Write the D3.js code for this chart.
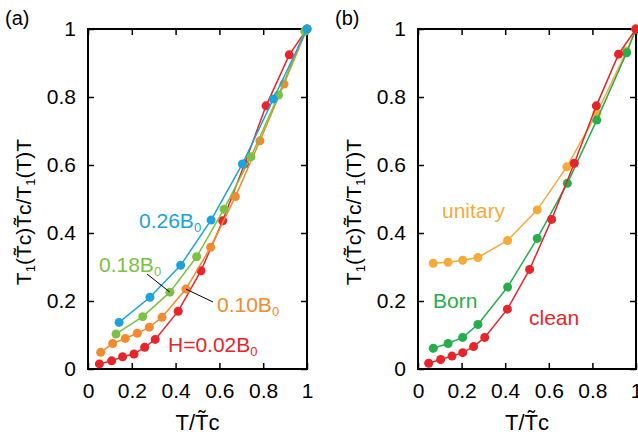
<!DOCTYPE html>
<html>
<head>
<meta charset="utf-8">
<title>T1 ratio</title>
<style>
  body { margin: 0; background: #fff; }
  text { font-family: "Liberation Sans", Arial, sans-serif; }
</style>
</head>
<body>
<script src="https://d3js.org/d3.v7.min.js"></script>
<script>
// panel (a): field dependence
var h002 = [[0.052,0.015],[0.108,0.024],[0.158,0.036],[0.21,0.044],[0.259,0.064],[0.307,0.087],[0.412,0.17],[0.516,0.289],[0.615,0.436],[0.715,0.603],[0.813,0.774],[0.919,0.924],[1,1]];
var h010 = [[0.058,0.049],[0.113,0.075],[0.17,0.09],[0.225,0.105],[0.28,0.123],[0.338,0.152],[0.447,0.235],[0.56,0.358],[0.673,0.507],[0.785,0.671],[0.895,0.838],[1,1]];
var h018 = [[0.128,0.103],[0.25,0.154],[0.374,0.226],[0.496,0.33],[0.621,0.47],[0.744,0.624],[0.87,0.806],[0.99,0.993]];
var h026 = [[0.142,0.137],[0.283,0.211],[0.423,0.305],[0.562,0.438],[0.705,0.603],[0.846,0.794],[1,1]];
// panel (b): impurity scattering
var unitary = [[0.07,0.311],[0.138,0.314],[0.205,0.32],[0.275,0.328],[0.411,0.378],[0.547,0.468],[0.683,0.595],[0.82,0.752],[0.957,0.935],[1,1]];
var born = [[0.07,0.061],[0.138,0.075],[0.205,0.093],[0.275,0.131],[0.411,0.241],[0.547,0.384],[0.685,0.546],[0.82,0.732],[0.957,0.93],[1,1]];
var clean = [[0.049,0.017],[0.104,0.028],[0.156,0.038],[0.205,0.048],[0.255,0.066],[0.306,0.093],[0.41,0.176],[0.512,0.293],[0.613,0.44],[0.717,0.605],[0.818,0.774],[0.92,0.926],[1,1]];

var tickVals = [0,0.2,0.4,0.6,0.8,1];
var fmt = function(d){ return d===0 ? "0" : d===1 ? "1" : d3.format(".1f")(d); };

var svg = d3.select("body").append("svg").attr("width",638).attr("height",435);

// rich text helper: parts = [[text, isSub], ...]
function rich(sel, parts, fs){
  var shift = 0;
  parts.forEach(function(p){
    var t = sel.append("tspan").text(p[0]);
    if(p[1]){
      t.attr("font-size", fs*0.62).attr("dy", (fs*0.2 - shift));
      shift = fs*0.2;
    } else {
      t.attr("dy", -shift);
      shift = 0;
    }
  });
  return sel;
}

function panel(left, right, series, label, notes){
  var x = d3.scaleLinear().domain([0,1]).range([left,right]);
  var y = d3.scaleLinear().domain([0,1]).range([369,29]);
  var g = svg.append("g");

  g.append("g").attr("transform","translate(0,369)")
    .call(d3.axisBottom(x).tickValues(tickVals).tickSize(-6).tickPadding(14).tickFormat(fmt));
  g.append("g").attr("transform","translate(0,29)")
    .call(d3.axisTop(x).tickValues(tickVals).tickSize(-6).tickFormat(""));
  g.append("g").attr("transform","translate("+left+",0)")
    .call(d3.axisLeft(y).tickValues(tickVals).tickSize(-6).tickPadding(12).tickFormat(fmt));
  g.append("g").attr("transform","translate("+right+",0)")
    .call(d3.axisRight(y).tickValues(tickVals).tickSize(-6).tickFormat(""));
  g.selectAll(".domain").remove();
  g.selectAll(".tick line").attr("stroke","#000").attr("stroke-width",1.5);
  g.selectAll(".tick text").attr("font-size",21).attr("font-family","Liberation Sans, Arial, sans-serif").attr("fill","#000");

  g.append("rect").attr("x",left).attr("y",29).attr("width",right-left).attr("height",340)
    .attr("fill","none").attr("stroke","#000").attr("stroke-width",2);

  var line = d3.line().x(function(d){return x(d[0]);}).y(function(d){return y(d[1]);});
  series.forEach(function(s){
    g.append("path").datum(s.data).attr("d",line).attr("fill","none")
      .attr("stroke",s.color).attr("stroke-width",1.5);
    g.selectAll(null).data(s.data).enter().append("circle")
      .attr("cx",function(d){return x(d[0]);}).attr("cy",function(d){return y(d[1]);})
      .attr("r",4.5).attr("fill",s.color);
  });

  // axis titles
  var xt = g.append("text").attr("x",(left+right)/2).attr("y",430).attr("text-anchor","middle").attr("font-size",22);
  rich(xt, [["T/T\u0303c",false]], 22);
  var yt = g.append("text").attr("transform","translate("+(left-57)+",212) rotate(-90)")
    .attr("text-anchor","middle").attr("font-size",21);
  rich(yt, [["T",false],["1",true],["(T\u0303c)T\u0303c/T",false],["1",true],["(T)T",false]], 21);

  g.append("text").attr("x",left-83).attr("y",25).attr("font-size",20).text(label);

  notes.forEach(function(n){
    if(n.lead){
      g.append("line").attr("x1",n.lead[0]).attr("y1",n.lead[1])
        .attr("x2",x(n.lead[2])).attr("y2",y(n.lead[3])).attr("stroke","#000").attr("stroke-width",1);
    }
    var t = g.append("text").attr("x",n.x).attr("y",n.y).attr("font-size",21).attr("fill",n.color);
    rich(t, n.parts, 21);
  });
}

var red = "#e8242b", orange = "#f28a2e", lgreen = "#7cc143", blue = "#1da2dc";
var yorange = "#f6aa3a", green = "#27ad4b";

panel(88, 307, [
  {data:h002, color:red},
  {data:h010, color:orange},
  {data:h018, color:lgreen},
  {data:h026, color:blue}
], "(a)", [
  {x:139, y:228, color:blue, parts:[["0.26B",false],["0",true]]},
  {x:99, y:272, color:lgreen, parts:[["0.18B",false],["0",true]], lead:[147,274,0.374,0.226]},
  {x:217, y:312, color:orange, parts:[["0.10B",false],["0",true]], lead:[213,302,0.447,0.235]},
  {x:168, y:352, color:red, parts:[["H=0.02B",false],["0",true]]}
]);

panel(418, 636, [
  {data:unitary, color:yorange},
  {data:born, color:green},
  {data:clean, color:red}
], "(b)", [
  {x:442, y:218, color:yorange, parts:[["unitary",false]]},
  {x:433, y:308, color:green, parts:[["Born",false]]},
  {x:529, y:325, color:red, parts:[["clean",false]]}
]);
</script>
</body>
</html>
